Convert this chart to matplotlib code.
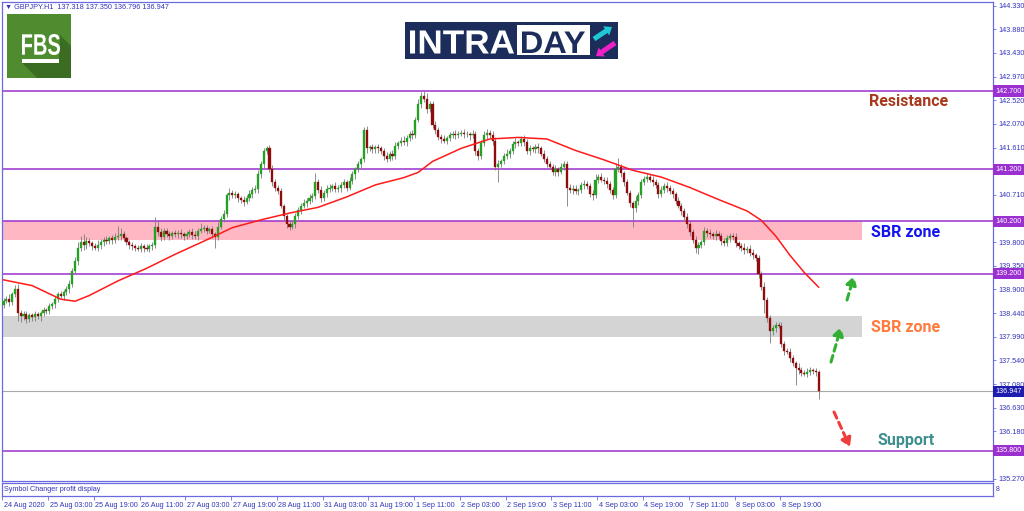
import matplotlib
matplotlib.use("Agg")
import matplotlib.pyplot as plt
import matplotlib.transforms as mtransforms
from matplotlib.patches import Rectangle, Polygon, FancyArrow, PathPatch
from matplotlib.textpath import TextPath
from matplotlib.font_manager import FontProperties

plt.rcParams['font.family'] = ['Liberation Sans', 'DejaVu Sans']

# ---------------- data ----------------
symbol_header = "\u25bc GBPJPY.H1  137.318 137.350 136.796 136.947"
first_open = 138.60
closes = [
    138.68, 138.72, 138.65, 138.80, 138.90, 138.45, 138.38, 138.42, 138.33, 138.40, 138.36, 138.42, 138.38, 138.45, 138.50, 138.48,
    138.58, 138.62, 138.72, 138.80, 138.78, 138.85, 138.90, 139.00, 139.25, 139.45, 139.70, 139.80, 139.75, 139.82, 139.78, 139.72,
    139.70, 139.75, 139.80, 139.85, 139.82, 139.88, 139.85, 139.90, 139.92, 139.95, 139.88, 139.80, 139.75, 139.72, 139.70, 139.68,
    139.72, 139.70, 139.68, 139.72, 139.75, 140.10, 140.00, 139.90, 140.02, 139.95, 139.92, 139.98, 139.95, 139.98, 139.95, 139.92,
    139.96, 140.00, 139.94, 139.92, 140.02, 140.05, 140.08, 140.02, 140.05, 139.95, 139.90, 140.10, 140.25, 140.35, 140.70, 140.75,
    140.70, 140.72, 140.65, 140.62, 140.58, 140.65, 140.72, 140.80, 140.82, 141.10, 141.30, 141.55, 141.60, 141.20, 140.95, 140.85,
    140.78, 140.50, 140.30, 140.15, 140.10, 140.15, 140.30, 140.42, 140.50, 140.55, 140.60, 140.65, 140.68, 140.95, 140.80, 140.65,
    140.75, 140.82, 140.85, 140.88, 140.82, 140.85, 140.90, 140.95, 140.85, 140.98, 141.10, 141.20, 141.30, 141.40, 141.95, 141.60,
    141.62, 141.58, 141.62, 141.60, 141.55, 141.45, 141.40, 141.50, 141.45, 141.65, 141.70, 141.75, 141.72, 141.80, 141.88, 141.85,
    142.15, 142.45, 142.60, 142.55, 142.35, 142.45, 142.05, 141.95, 141.82, 141.78, 141.75, 141.80, 141.85, 141.88, 141.86, 141.88,
    141.90, 141.87, 141.88, 141.85, 141.88, 141.55, 141.45, 141.70, 141.85, 141.90, 141.85, 141.75, 141.25, 141.30, 141.35, 141.45,
    141.50, 141.55, 141.68, 141.72, 141.70, 141.78, 141.72, 141.55, 141.60, 141.58, 141.62, 141.60, 141.50, 141.40, 141.30, 141.25,
    141.15, 141.20, 141.15, 141.25, 141.30, 140.85, 140.80, 140.82, 140.78, 140.80, 140.90, 140.92, 140.88, 140.72, 140.70, 141.00,
    141.05, 141.00, 140.98, 140.92, 140.80, 140.70, 141.20, 141.25, 141.12, 140.95, 140.75, 140.55, 140.45, 140.60, 140.70, 140.95,
    141.02, 141.05, 141.00, 140.95, 140.90, 140.72, 140.80, 140.88, 140.85, 140.78, 140.72, 140.60, 140.50, 140.40, 140.28, 140.15,
    140.00, 139.85, 139.70, 139.75, 139.80, 140.02, 139.98, 139.95, 139.92, 139.96, 139.93, 139.82, 139.78, 139.88, 139.92, 139.90,
    139.78, 139.72, 139.70, 139.65, 139.68, 139.60, 139.55, 139.50, 139.20, 138.95, 138.70, 138.35, 138.10, 138.15, 138.22, 138.20,
    137.85, 137.72, 137.70, 137.58, 137.48, 137.40, 137.35, 137.30, 137.28, 137.32, 137.35, 137.33, 137.318, 136.947,
]
# wick lengths above / below the body, in hundredths of a yen
upper_wick = [
    6, 5, 8, 4, 8, 10, 5, 6, 7, 5, 4, 6, 5, 4, 6, 5,
    5, 4, 6, 5, 7, 4, 6, 8, 5, 6, 10, 12, 15, 8, 6, 5,
    7, 9, 6, 5, 8, 4, 6, 8, 20, 12, 6, 5, 4, 6, 5, 4,
    6, 5, 7, 4, 5, 18, 10, 8, 6, 5, 7, 4, 6, 5, 8, 4,
    6, 5, 7, 8, 6, 12, 5, 6, 4, 7, 5, 8, 6, 7, 5, 9,
    6, 7, 5, 4, 6, 5, 8, 6, 7, 8, 6, 5, 5, 6, 8, 7,
    5, 6, 4, 5, 8, 6, 7, 5, 6, 8, 5, 7, 6, 18, 6, 8,
    5, 7, 6, 4, 8, 5, 6, 7, 5, 8, 6, 5, 6, 4, 6, 8,
    5, 6, 4, 7, 5, 6, 8, 5, 6, 7, 5, 6, 8, 6, 5, 7,
    6, 9, 8, 10, 12, 6, 5, 7, 6, 5, 8, 4, 6, 5, 7, 6,
    5, 8, 6, 4, 7, 6, 5, 6, 8, 7, 5, 8, 6, 7, 5, 6,
    8, 5, 6, 7, 5, 6, 8, 6, 7, 5, 6, 8, 5, 7, 6, 5,
    6, 8, 5, 7, 6, 5, 6, 7, 8, 5, 6, 7, 6, 5, 8, 10,
    6, 8, 5, 7, 6, 6, 12, 17, 6, 5, 7, 6, 5, 8, 6, 7,
    6, 8, 5, 7, 6, 5, 8, 6, 7, 5, 6, 5, 7, 6, 5, 8,
    6, 5, 7, 6, 5, 8, 6, 7, 5, 8, 6, 5, 7, 6, 5, 6,
    7, 5, 6, 8, 5, 6, 7, 5, 6, 5, 8, 6, 5, 7, 6, 5,
    8, 6, 5, 7, 6, 5, 8, 6, 5, 7, 6, 5, 6, 3,
]
lower_wick = [
    6, 5, 8, 6, 5, 15, 10, 6, 8, 5, 7, 6, 5, 8, 6, 5,
    6, 5, 7, 6, 5, 8, 6, 7, 5, 6, 8, 6, 10, 8, 6, 7,
    5, 6, 8, 7, 6, 5, 8, 6, 5, 7, 6, 5, 8, 6, 7, 5,
    6, 8, 5, 7, 6, 6, 8, 7, 6, 5, 8, 6, 5, 7, 6, 8,
    6, 5, 7, 6, 8, 5, 6, 7, 5, 6, 21, 6, 5, 7, 6, 8,
    5, 6, 7, 6, 8, 5, 6, 7, 5, 8, 6, 7, 5, 6, 8, 7,
    6, 5, 7, 8, 6, 5, 7, 6, 8, 5, 7, 6, 8, 5, 6, 7,
    6, 8, 5, 7, 6, 5, 8, 6, 7, 5, 6, 8, 5, 7, 6, 8,
    5, 7, 6, 8, 5, 7, 6, 5, 8, 6, 7, 5, 6, 8, 5, 7,
    6, 5, 7, 6, 8, 6, 5, 7, 6, 8, 5, 7, 6, 5, 8, 6,
    5, 7, 6, 8, 6, 7, 8, 6, 5, 7, 6, 8, 7, 30, 6, 5,
    6, 8, 5, 7, 6, 5, 8, 6, 7, 5, 6, 8, 5, 7, 6, 5,
    6, 7, 8, 5, 6, 35, 6, 7, 5, 8, 6, 7, 5, 6, 8, 6,
    7, 5, 6, 8, 6, 7, 5, 6, 6, 8, 5, 7, 36, 6, 8, 5,
    6, 7, 5, 8, 6, 7, 5, 6, 8, 5, 7, 6, 5, 8, 6, 7,
    8, 6, 10, 12, 6, 5, 7, 6, 5, 8, 6, 7, 5, 6, 8, 6,
    7, 5, 6, 8, 5, 6, 7, 5, 8, 6, 26, 8, 23, 7, 6, 5,
    6, 8, 5, 7, 6, 34, 8, 6, 5, 7, 6, 5, 8, 15,
]
ma_bars = [0, 10, 20, 25, 30, 40, 50, 60, 70, 80, 90, 100, 110, 120, 130, 140, 145, 150,
           160, 170, 180, 190, 200, 210, 220, 230, 240, 250, 260, 265, 270, 275, 280, 285]
ma_values = [139.08, 138.97, 138.71, 138.67, 138.78, 139.06, 139.30, 139.57, 139.82, 140.08,
             140.23, 140.36, 140.47, 140.67, 140.90, 141.04, 141.14, 141.35, 141.60, 141.78,
             141.81, 141.78, 141.56, 141.38, 141.18, 141.05, 140.85, 140.62, 140.40, 140.22,
             139.92, 139.55, 139.22, 138.94]
time_labels = ["24 Aug 2020", "25 Aug 03:00", "25 Aug 19:00", "26 Aug 11:00", "27 Aug 03:00",
               "27 Aug 19:00", "28 Aug 11:00", "31 Aug 03:00", "31 Aug 19:00", "1 Sep 11:00",
               "2 Sep 03:00", "2 Sep 19:00", "3 Sep 11:00", "4 Sep 03:00", "4 Sep 19:00",
               "7 Sep 11:00", "8 Sep 03:00", "8 Sep 19:00"]
bars_per_label = 16
price_ticks = [144.330, 143.880, 143.430, 142.970, 142.520, 142.070, 141.610, 141.160, 140.710,
               140.250, 139.800, 139.350, 138.900, 138.440, 137.990, 137.540, 137.080, 136.630,
               136.180, 135.730, 135.270]
hidden_tick_labels = [141.160, 140.250, 135.730]   # covered by the level price boxes
level_lines = [142.700, 141.200, 140.200, 139.200, 135.800]
last_price = 136.947
pink_zone = (139.84, 140.20)
gray_zone = (137.98, 138.39)
zone_end_bar = 300

# ---------------- styling ----------------
W, H = 1024, 511
BORDER = '#6a6ae0'
AXTEXT = '#3434bc'
PURPLE = '#9b30d0'
UP = '#25a025'
DOWN = '#8e0c0c'
WICK = '#7a7a7a'

fig = plt.figure(figsize=(W / 100, H / 100), dpi=100)
fig.patch.set_facecolor('white')

def fx(px):
    return px / W

def fy(py):
    return 1 - py / H

L, R, T, B = 2, 993, 2, 481
ax = fig.add_axes([fx(L), fy(B), (R - L) / W, (B - T) / H])
px_per_bar = 2.86
x0 = 3.5
ax.set_xlim((L - x0) / px_per_bar, (R - x0) / px_per_bar)
px_per_yen = 52.17
ax.set_ylim(142.7 - (B - 91) / px_per_yen, 142.7 + (91 - T) / px_per_yen)

for s in ax.spines.values():
    s.set_color(BORDER)
    s.set_linewidth(0.9)

# zones
ax.add_patch(Rectangle((ax.get_xlim()[0], pink_zone[0]), zone_end_bar - ax.get_xlim()[0],
                       pink_zone[1] - pink_zone[0], fc='#ffb7c3', ec='none', zorder=1))
ax.add_patch(Rectangle((ax.get_xlim()[0], gray_zone[0]), zone_end_bar - ax.get_xlim()[0],
                       gray_zone[1] - gray_zone[0], fc='#d4d4d4', ec='none', zorder=1))

# level lines
for lv in level_lines:
    ax.axhline(lv, color=PURPLE, lw=1.1, zorder=2)
ax.axhline(last_price, color='#a8a8a8', lw=0.8, zorder=2)

# candles
opens = [first_open] + closes[:-1]
xs = list(range(len(closes)))
highs = [max(o, c) + u / 100 for o, c, u in zip(opens, closes, upper_wick)]
lows = [min(o, c) - d / 100 for o, c, d in zip(opens, closes, lower_wick)]
ax.vlines(xs, lows, highs, colors=WICK, lw=0.6, zorder=3)
for x, o, c in zip(xs, opens, closes):
    bottom = min(o, c)
    h = max(abs(c - o), 0.012)
    col = UP if c >= o else DOWN
    ax.bar(x, h, bottom=bottom, width=0.74, color=col, edgecolor=col, lw=0.25, zorder=4)

# moving average
ax.plot(ma_bars, ma_values, color='#ff1a1a', lw=1.1, zorder=5)

# right price axis
ax.yaxis.tick_right()
ax.set_yticks(price_ticks)
ax.set_yticklabels(["" if v in hidden_tick_labels else f"{v:.3f}" for v in price_ticks])
ax.tick_params(axis='y', direction='out', length=2.5, width=0.6, color=BORDER,
               labelsize=5.2, labelcolor=AXTEXT, pad=1.5)
ax.set_xticks([])

trans = mtransforms.blended_transform_factory(ax.transAxes, ax.transData)
for lv in level_lines:
    ax.text(1.0 + 2.5 / (R - L), lv, f"{lv:.3f}", transform=trans, ha='left', va='center',
            fontsize=5.2, color='white', clip_on=False, zorder=20,
            bbox=dict(boxstyle='square,pad=0.28', fc=PURPLE, ec='none'))
ax.text(1.0 + 2.5 / (R - L), last_price, f"{last_price:.3f}", transform=trans, ha='left',
        va='center', fontsize=5.2, color='white', clip_on=False, zorder=20,
        bbox=dict(boxstyle='square,pad=0.28', fc='#1c1cae', ec='none'))

# annotations
def bx(px):
    return (px - x0) / px_per_bar

def py2p(py):
    return 142.7 - (py - 91) / px_per_yen

lab_font = dict(family=['Roboto', 'DejaVu Sans'], weight='bold', fontsize=11.5,
                ha='center', va='center', zorder=10)
ax.text(bx(909), py2p(101), "Resistance", color='#a8391c', **lab_font)
ax.text(bx(906), py2p(232), "SBR zone", color='#1414f0', **lab_font)
ax.text(bx(906), py2p(327), "SBR zone", color='#ff7b3c', **lab_font)
ax.text(bx(906), py2p(440), "Support", color='#3d8e8e', **lab_font)

def dashed_arrow(p0, p1, color):
    ax.annotate('', xy=(bx(p1[0]), py2p(p1[1])), xytext=(bx(p0[0]), py2p(p0[1])),
                arrowprops=dict(arrowstyle='-|>,head_length=0.5,head_width=0.3', color=color,
                                lw=2.2, linestyle=(0, (2.2, 1.5)), shrinkA=0, shrinkB=0),
                annotation_clip=False, zorder=10)

dashed_arrow((831, 362), (841, 327), '#33b033')
dashed_arrow((847, 300), (854, 276), '#33b033')
dashed_arrow((834, 412), (850, 447), '#f03c3c')

# sub panel
ax2 = fig.add_axes([fx(L), fy(496), (R - L) / W, (496 - 483) / H])
ax2.set_xlim(ax.get_xlim())
ax2.set_ylim(0, 1)
for s in ax2.spines.values():
    s.set_color(BORDER)
    s.set_linewidth(0.9)
ax2.set_yticks([])
tick_pos = [i * bars_per_label for i in range(len(time_labels))]
ax2.set_xticks([p - 0.4 for p in tick_pos])
ax2.set_xticklabels(time_labels)
ax2.tick_params(axis='x', direction='out', length=3, width=0.6, color=BORDER,
                labelsize=5.2, labelcolor=AXTEXT, pad=1.2)
offset = mtransforms.ScaledTranslation(1.5 / 100, 0, fig.dpi_scale_trans)
for lbl in ax2.get_xticklabels():
    lbl.set_horizontalalignment('left')
    lbl.set_transform(lbl.get_transform() + offset)
ax2.text(0.002, 0.5, "Symbol Changer profit display", transform=ax2.transAxes, ha='left',
         va='center', fontsize=5.2, color=AXTEXT)
ax2.text(1.003, 0.5, "8", transform=ax2.transAxes, ha='left', va='center', fontsize=5,
         color=AXTEXT)

# header
fig.text(fx(5), fy(7), symbol_header, fontsize=5.2, color=AXTEXT, ha='left', va='center')


def fitted_text(axl, s, x0_, x1_, ytop, ybot, color, weight='bold', family='Liberation Sans'):
    """Draw text s as a path stretched to fill the box (axes with inverted y)."""
    tp = TextPath((0, 0), s, size=10, prop=FontProperties(family=family, weight=weight))
    bb = tp.get_extents()
    sx = (x1_ - x0_) / bb.width
    sy = (ybot - ytop) / bb.height
    tr = mtransforms.Affine2D().translate(-bb.x0, -bb.y0).scale(sx, -sy).translate(x0_, ybot)
    axl.add_patch(PathPatch(tr.transform_path(tp), fc=color, ec='none', lw=0))


# FBS logo
lg = fig.add_axes([fx(7), fy(78), 64 / W, 64 / H])
lg.set_xlim(0, 64)
lg.set_ylim(64, 0)
lg.axis('off')
lg.add_patch(Rectangle((0, 0), 64, 64, fc='#4f8c2f', ec='none'))
lg.add_patch(Polygon([(15, 49), (52, 46), (53, 21), (64, 32), (64, 64), (30, 64)],
                     closed=True, fc='#3a6d21', ec='none'))
fitted_text(lg, "FBS", 15, 53, 20, 41, 'white')
lg.add_patch(Rectangle((15, 45), 37, 4, fc='white', ec='none'))

# INTRADAY logo
il = fig.add_axes([fx(405), fy(59), 213 / W, 37 / H])
il.set_xlim(0, 213)
il.set_ylim(37, 0)
il.axis('off')
il.add_patch(Rectangle((0, 0), 213, 37, fc='#1c2d5c', ec='none'))
fitted_text(il, "INTRA", 5, 109, 8.5, 31.5, 'white')
il.add_patch(Rectangle((112, 3), 73, 30, fc='white', ec='none'))
fitted_text(il, "DAY", 117, 180, 9.5, 31, '#1c2d5c')
il.add_patch(FancyArrow(189, 17, 18, -12, width=5, head_width=11, head_length=7,
                        length_includes_head=True, fc='#1ec8d4', ec='none'))
il.add_patch(FancyArrow(210, 21, -19, 13, width=5, head_width=11, head_length=7,
                        length_includes_head=True, fc='#f020c8', ec='none'))

fig.savefig("out.png", dpi=100)
